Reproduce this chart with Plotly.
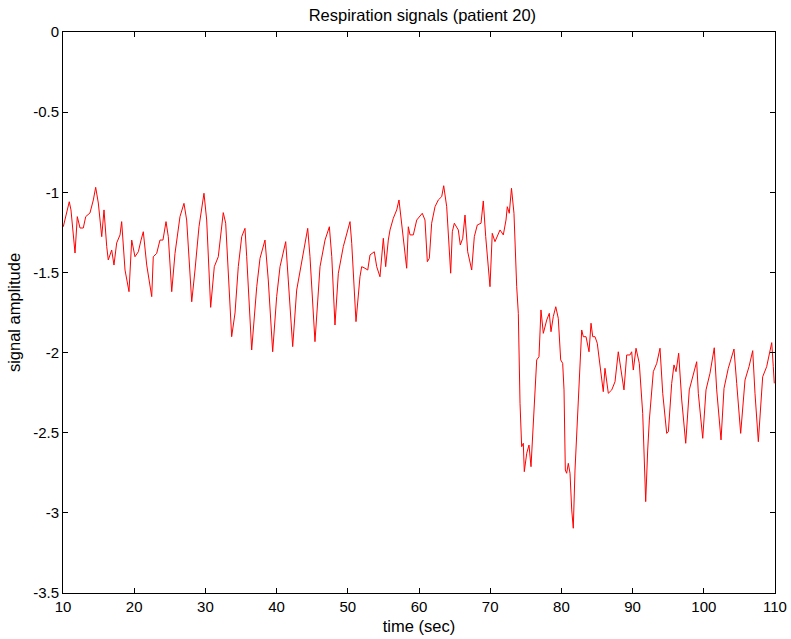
import plotly.graph_objects as go

time_sec = [10.04, 10.88, 11.12, 11.69, 12.01, 12.39, 12.85, 13.19, 13.79, 14.26, 14.59, 14.96, 15.44, 15.76, 16.14, 16.36, 16.84, 17.16, 17.54, 18.01,
            18.24, 18.71, 19.27, 19.65, 20.11, 20.58, 20.96, 21.28, 21.76, 22.46, 22.68, 23.16, 23.62, 24.04, 24.47, 24.79, 25.27, 25.73, 26.43, 26.99,
            27.37, 28.08, 28.54, 29.10, 29.80, 30.18, 30.74, 31.25, 31.81, 32.51, 32.85, 33.69, 34.16, 34.62, 35.10, 35.56, 35.80, 36.50, 37.21, 37.67,
            38.37, 38.83, 39.45, 40.01, 40.48, 41.28, 41.64, 42.26, 42.82, 43.53, 44.37, 44.69, 45.39, 46.10, 46.56, 46.80, 47.41, 47.75, 48.20, 48.67,
            49.37, 50.31, 50.55, 51.15, 51.71, 51.95, 52.42, 52.80, 53.12, 53.72, 54.06, 54.52, 54.99, 55.32, 55.69, 55.93, 56.39, 56.87, 57.19, 57.65,
            58.27, 58.50, 58.74, 59.20, 59.68, 60.46, 60.84, 61.17, 61.45, 61.78, 62.25, 62.71, 63.19, 63.47, 63.89, 64.45, 64.68, 64.96, 65.52, 65.80,
            66.14, 66.46, 66.84, 67.40, 67.77, 68.19, 68.71, 69.03, 69.37, 69.97, 70.29, 70.67, 71.38, 71.84, 72.22, 72.40, 72.68, 72.99, 73.34, 73.72,
            73.95, 74.19, 74.42, 74.65, 74.79, 75.13, 75.45, 75.73, 76.05, 76.53, 76.85, 77.13, 77.46, 77.94, 78.30, 78.54, 78.86, 79.21, 79.56, 79.90,
            80.18, 80.37, 80.55, 80.74, 80.97, 81.21, 81.45, 81.67, 81.91, 82.15, 82.52, 82.85, 83.08, 83.46, 83.88, 84.16, 84.40, 84.72, 85.04, 85.42,
            85.88, 86.12, 86.59, 87.07, 87.53, 87.99, 88.33, 88.79, 89.17, 89.63, 89.87, 90.10, 90.48, 90.94, 91.42, 91.64, 91.84, 92.12, 92.35, 92.91,
            93.39, 93.85, 94.23, 94.79, 95.02, 95.49, 95.81, 96.10, 96.47, 96.90, 97.46, 97.96, 98.53, 99.00, 99.23, 99.85, 100.31, 100.87, 101.47, 101.81,
            102.42, 102.84, 103.44, 104.24, 104.62, 105.18, 105.79, 106.35, 106.87, 107.19, 107.66, 108.27, 108.83, 109.54, 109.76, 109.90]

amplitude = [-1.215, -1.059, -1.110, -1.379, -1.152, -1.223, -1.223, -1.152, -1.129, -1.048, -0.969, -1.067, -1.277, -1.110, -1.339, -1.422, -1.360, -1.454, -1.316, -1.266,
             -1.183, -1.485, -1.620, -1.298, -1.402, -1.371, -1.298, -1.246, -1.454, -1.651, -1.402, -1.381, -1.298, -1.298, -1.183, -1.277, -1.620, -1.381, -1.152, -1.069,
             -1.173, -1.683, -1.485, -1.215, -1.006, -1.173, -1.718, -1.464, -1.402, -1.127, -1.193, -1.901, -1.753, -1.464, -1.277, -1.225, -1.402, -1.984, -1.589, -1.412,
             -1.298, -1.547, -1.995, -1.651, -1.464, -1.308, -1.547, -1.963, -1.610, -1.443, -1.225, -1.402, -1.932, -1.464, -1.360, -1.298, -1.215, -1.402, -1.828, -1.505,
             -1.339, -1.183, -1.318, -1.807, -1.527, -1.464, -1.474, -1.485, -1.391, -1.371, -1.464, -1.527, -1.287, -1.464, -1.298, -1.235, -1.162, -1.110, -1.048, -1.235,
             -1.474, -1.215, -1.266, -1.266, -1.173, -1.131, -1.173, -1.433, -1.412, -1.193, -1.090, -1.048, -1.027, -0.959, -1.090, -1.505, -1.246, -1.193, -1.235, -1.329,
             -1.287, -1.142, -1.371, -1.485, -1.277, -1.204, -1.193, -1.054, -1.277, -1.589, -1.256, -1.308, -1.235, -1.266, -1.173, -1.090, -1.131, -0.975, -1.131, -1.589,
             -1.755, -2.316, -2.587, -2.566, -2.743, -2.628, -2.577, -2.712, -2.421, -2.046, -2.026, -1.734, -1.880, -1.797, -1.755, -1.870, -1.776, -1.714, -1.786, -2.046,
             -2.067, -2.233, -2.733, -2.753, -2.691, -2.753, -2.982, -3.096, -2.733, -2.504, -2.192, -1.859, -1.901, -1.901, -1.995, -1.817, -1.901, -1.901, -1.942, -2.088,
             -2.244, -2.098, -2.254, -2.233, -2.182, -1.995, -2.088, -2.233, -2.015, -2.015, -1.995, -2.109, -1.973, -2.067, -2.379, -2.670, -2.930, -2.608, -2.421, -2.119,
             -2.067, -1.973, -2.254, -2.504, -2.494, -2.192, -2.077, -2.119, -2.004, -2.296, -2.566, -2.233, -2.140, -2.057, -2.254, -2.535, -2.233, -2.129, -1.970, -2.233,
             -2.545, -2.223, -2.098, -1.978, -2.192, -2.504, -2.171, -2.088, -1.988, -2.254, -2.556, -2.151, -2.088, -1.938, -2.088, -2.192]

x_ticks = [10, 20, 30, 40, 50, 60, 70, 80, 90, 100, 110]
x_tick_labels = ["10", "20", "30", "40", "50", "60", "70", "80", "90", "100", "110"]
y_ticks = [0, -0.5, -1, -1.5, -2, -2.5, -3, -3.5]
y_tick_labels = ["0", "-0.5", "-1", "-1.5", "-2", "-2.5", "-3", "-3.5"]

FONT = "Liberation Sans, Arial, sans-serif"

fig = go.Figure()
fig.add_trace(go.Scatter(x=time_sec, y=amplitude, mode="lines",
                         line=dict(color="#ff0000", width=1), showlegend=False))

axis_common = dict(showgrid=False, zeroline=False, showline=True, linecolor="#000000", linewidth=1,
                   mirror="ticks", ticks="inside", ticklen=5, tickcolor="#000000", automargin=False,
                   tickfont=dict(family=FONT, size=15, color="#000000"))

fig.update_layout(
    width=791, height=639, autosize=False,
    margin=dict(l=63, r=16, t=32, b=46, autoexpand=False),
    paper_bgcolor="#ffffff", plot_bgcolor="#ffffff",
    title=dict(text="Respiration signals (patient 20)", x=0.534, xanchor="center",
               y=0.976, yanchor="middle", automargin=False,
               font=dict(family=FONT, size=16.5, color="#000000")),
    xaxis=dict(range=[10, 110], tickvals=x_ticks, ticktext=x_tick_labels,
               title=dict(text="time (sec)", standoff=6, font=dict(family=FONT, size=16.5, color="#000000")),
               **axis_common),
    yaxis=dict(range=[-3.5, 0], tickvals=y_ticks, ticktext=y_tick_labels,
               title=dict(text="signal amplitude", standoff=8, font=dict(family=FONT, size=16.5, color="#000000")),
               **axis_common),
)

fig.write_html("out.html")
